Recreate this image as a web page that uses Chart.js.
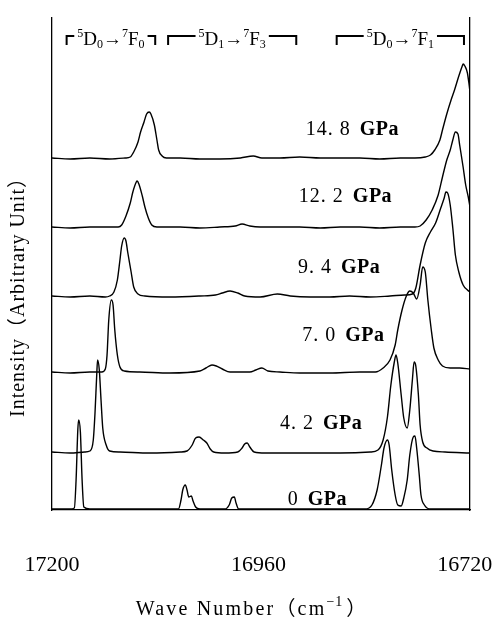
<!DOCTYPE html>
<html><head><meta charset="utf-8">
<script src="https://cdn.jsdelivr.net/npm/chart.js@4.4.1/dist/chart.umd.min.js"></script>
<style>html,body{margin:0;padding:0;background:#fff;}#wrap{width:496px;height:622px;position:relative;}</style>
</head><body><div id="wrap"><canvas id="c"></canvas></div>
<script>
// ---- data (wave number cm^-1, intensity arbitrary units, stacked offsets as read) ----
const pressureLabels = ['14. 8', '12. 2', '9. 4', '7. 0', '4. 2', '0'];
const xTickValues = [17200, 16960, 16720];
const xTitle = 'Wave Number（cm';
const xTitleSup = '−1';
const yTitle = 'Intensity（Arbitrary Unit）';
const bandLabels = ['^5D_0→^7F_0', '^5D_1→^7F_3', '^5D_0→^7F_1'];
const bandRanges = [[17183, 17080], [17065, 16916], [16869, 16721]];

const spec_14_8 = [[17200,352],[17179,351],[17156,352],[17133,351],[17115,352],[17109,353],[17105,358],[17100,368],[17097,378],[17093,388],[17090,396],[17087,398],[17085,396],[17081,385],[17078,370],[17076,360],[17072,354],[17067,352],[17051,352],[17028,351],[17005,351],[16981,352],[16966,354],[16956,352],[16935,352],[16912,353],[16888,352],[16865,352],[16842,352],[16819,351],[16795,352],[16778,352],[16766,353],[16760,355],[16755,360],[16749,370],[16746,380],[16741,396],[16736,410],[16732,420],[16727,434],[16723,444],[16722,446],[16720,444],[16717,437],[16715,425],[16714,418]];
const spec_12_2 = [[17200,283],[17179,282],[17156,283],[17133,283],[17123,283],[17119,285],[17114,294],[17109,307],[17106,318],[17102,328],[17101,329],[17099,326],[17095,314],[17092,303],[17088,292],[17084,285],[17078,283],[17051,283],[17028,282],[17005,283],[16987,284],[16979,286],[16970,284],[16958,283],[16935,283],[16912,283],[16888,282],[16865,283],[16842,283],[16819,282],[16795,283],[16778,283],[16772,284],[16765,290],[16758,300],[16751,315],[16746,333],[16741,350],[16737,360],[16734,370],[16731,378],[16728,376],[16726,365],[16722,343],[16719,325],[16716,313],[16714,303]];
const spec_9_4 = [[17200,214],[17179,213],[17156,214],[17138,213],[17133,214],[17128,218],[17124,230],[17121,250],[17119,264],[17116,272],[17114,269],[17112,258],[17108,238],[17105,223],[17100,216],[17092,214],[17063,213],[17028,214],[17010,215],[17002,217],[16993,219],[16984,217],[16976,214],[16958,213],[16938,216],[16923,214],[16900,213],[16877,213],[16854,214],[16830,213],[16807,214],[16790,215],[16781,216],[16777,222],[16772,245],[16766,267],[16760,278],[16754,287],[16748,302],[16744,312],[16742,318],[16740,317],[16737,305],[16734,282],[16731,255],[16727,238],[16722,225],[16717,220],[16714,218]];
const spec_7_0 = [[17200,138],[17179,137],[17156,138],[17142,138],[17138,141],[17136,155],[17134,190],[17131,210],[17129,205],[17127,180],[17124,155],[17121,143],[17116,139],[17098,138],[17063,137],[17028,139],[17021,142],[17014,145],[17009,144],[17002,141],[16993,138],[16970,138],[16963,140],[16956,142],[16949,139],[16935,138],[16912,137],[16877,137],[16842,138],[16824,138],[16815,142],[16807,150],[16801,165],[16798,180],[16793,200],[16788,214],[16784,219],[16780,217],[16776,211],[16772,225],[16769,243],[16766,238],[16763,210],[16759,180],[16756,162],[16751,150],[16746,144],[16737,142],[16726,142],[16714,141]];
const spec_4_2 = [[17200,58],[17179,57],[17162,58],[17156,59],[17152,70],[17150,97],[17148,135],[17147,150],[17145,140],[17143,110],[17141,82],[17137,65],[17133,59],[17121,58],[17086,57],[17051,58],[17043,59],[17037,65],[17033,72],[17029,73],[17024,70],[17020,67],[17016,61],[17012,58],[16999,57],[16984,58],[16979,62],[16976,66],[16973,67],[16970,63],[16965,58],[16952,57],[16912,57],[16865,57],[16830,58],[16821,60],[16815,70],[16810,93],[16806,125],[16802,148],[16800,155],[16798,147],[16794,115],[16791,92],[16787,82],[16784,100],[16781,130],[16779,148],[16777,144],[16774,115],[16772,85],[16769,68],[16764,62],[16757,59],[16743,58],[16714,57]];
const spec_0 = [[17200,1],[17179,1],[17174,2],[17172,30],[17170,80],[17169,90],[17167,78],[17165,30],[17163,3],[17156,1],[17121,1],[17086,1],[17053,1],[17050,10],[17048,20],[17045,25],[17043,20],[17041,13],[17038,14],[17036,9],[17033,3],[17028,1],[16999,1],[16994,5],[16991,12],[16988,13],[16986,7],[16983,1],[16958,1],[16912,1],[16865,1],[16836,1],[16828,5],[16822,20],[16817,45],[16814,62],[16810,70],[16808,65],[16805,40],[16801,15],[16798,5],[16794,4],[16791,12],[16787,30],[16784,55],[16780,73],[16778,74],[16776,62],[16773,35],[16771,15],[16767,5],[16760,1],[16714,1]];

// ---- layout (positions of annotations, in data coordinates) ----
const labelAnchors = [[16905,380],[16913,313],[16914,242],[16909,174],[16935,86],[16926,10]];

const series = [spec_14_8, spec_12_2, spec_9_4, spec_7_0, spec_4_2, spec_0];
const SERIF = '"Liberation Serif", "Noto Sans CJK JP", serif';

function parsePieces(s){
  const out=[]; let i=0;
  while(i<s.length){
    const ch=s[i];
    if(ch==='^'){out.push({t:s[i+1],k:'sup'});i+=2;}
    else if(ch==='_'){out.push({t:s[i+1],k:'sub'});i+=2;}
    else {out.push({t:ch,k:''});i++;}
  }
  return out;
}

const decor = {
  id:'decor',
  afterDraw(chart){
    const ctx = chart.ctx, xs = chart.scales.x, ys = chart.scales.y, ca = chart.chartArea;
    ctx.save();
    ctx.fillStyle='#000'; ctx.strokeStyle='#000';
    // pressure labels
    pressureLabels.forEach((t,i)=>{
      const px = xs.getPixelForValue(labelAnchors[i][0]);
      const py = ys.getPixelForValue(labelAnchors[i][1]);
      ctx.textBaseline='middle'; ctx.textAlign='left';
      ctx.font = '20px ' + SERIF;
      ctx.letterSpacing='1px';
      ctx.fillText(t, px, py);
      const w = ctx.measureText(t).width;
      ctx.font = 'bold 20px ' + SERIF;
      ctx.letterSpacing='0.5px';
      ctx.fillText('GPa', px + w + 9, py);
    });
    ctx.letterSpacing='0px';
    // band brackets
    const yl = ca.top + 18;
    bandLabels.forEach((s,i)=>{
      const x1 = xs.getPixelForValue(bandRanges[i][0]);
      const x2 = xs.getPixelForValue(bandRanges[i][1]);
      const pcs = parsePieces(s);
      let w=0;
      pcs.forEach(p=>{ctx.font=(p.k?'12px ':'19px ')+SERIF; p.w=ctx.measureText(p.t).width; w+=p.w;});
      const cx=(x1+x2)/2; let tx=cx-w/2;
      ctx.lineWidth=2;
      ctx.beginPath();
      ctx.moveTo(x1, yl+9); ctx.lineTo(x1, yl); ctx.lineTo(tx-3, yl);
      ctx.moveTo(tx+w+3, yl); ctx.lineTo(x2, yl); ctx.lineTo(x2, yl+9);
      ctx.stroke();
      const base = yl+9;
      ctx.textBaseline='alphabetic'; ctx.textAlign='left';
      pcs.forEach(p=>{
        ctx.font=(p.k?'12px ':'19px ')+SERIF;
        const yy = p.k==='sup'? base-8 : p.k==='sub'? base+3 : base;
        ctx.fillText(p.t, tx, yy); tx+=p.w;
      });
    });
    // x title
    ctx.font='20px '+SERIF; ctx.letterSpacing='2.2px';
    const w1 = ctx.measureText(xTitle).width;
    ctx.font='14px '+SERIF; ctx.letterSpacing='1px';
    const w2 = ctx.measureText(xTitleSup).width;
    ctx.font='20px '+SERIF; ctx.letterSpacing='0px';
    const w3 = ctx.measureText('）').width;
    let tx = 251 - (w1+w2+3+w3)/2;
    const tb = 615;
    ctx.textBaseline='alphabetic';
    ctx.font='20px '+SERIF; ctx.letterSpacing='2.2px';
    ctx.fillText(xTitle, tx, tb); tx+=w1;
    ctx.font='14px '+SERIF; ctx.letterSpacing='1px';
    ctx.fillText(xTitleSup, tx, tb-9); tx+=w2+3;
    ctx.font='20px '+SERIF; ctx.letterSpacing='0px';
    ctx.fillText('）', tx, tb);
    // y title
    ctx.save();
    ctx.translate(19, 292); ctx.rotate(-Math.PI/2);
    ctx.font='20px '+SERIF; ctx.letterSpacing='1px';
    ctx.textAlign='center'; ctx.textBaseline='middle';
    ctx.fillText(yTitle, 0, 0);
    ctx.restore();
    ctx.restore();
  }
};

function noPad(s){ s.paddingLeft=0; s.paddingRight=0; s.paddingTop=0; s.paddingBottom=0; }

new Chart(document.getElementById('c'), {
  type:'line',
  data:{ datasets: series.map((s,i)=>({
    label: pressureLabels[i] + ' GPa',
    data: s.map(p=>({x:p[0], y:p[1]})),
    borderColor:'#000', borderWidth:1.4, pointRadius:0, fill:false,
    cubicInterpolationMode:'monotone'
  }))},
  options:{
    responsive:true, maintainAspectRatio:false, animation:false, devicePixelRatio:1,
    layout:{padding:{top:18,left:0,right:0,bottom:0}},
    plugins:{legend:{display:false}, tooltip:{enabled:false}},
    scales:{
      x:{type:'linear', reverse:true, min:16714, max:17200, position:'bottom',
         grid:{display:false, drawTicks:false},
         border:{display:true, color:'#000', width:1.3},
         ticks:{color:'#000', font:{family:SERIF, size:22}, padding:42, maxRotation:0, autoSkip:false,
                callback:(v)=>String(v)},
         afterBuildTicks:(s)=>{ s.ticks = xTickValues.map(v=>({value:v})); },
         afterFit:(s)=>{ s.height = 112; noPad(s); }
      },
      y:{type:'linear', min:0, max:492, position:'left',
         grid:{display:false, drawTicks:false}, ticks:{display:false},
         border:{display:true, color:'#000', width:1.3},
         afterFit:(s)=>{ s.width = 52; noPad(s); }
      },
      y2:{type:'linear', min:0, max:492, position:'right',
         grid:{display:false, drawTicks:false}, ticks:{display:false},
         border:{display:true, color:'#000', width:1.3},
         afterFit:(s)=>{ s.width = 26; noPad(s); }
      }
    }
  },
  plugins:[decor]
});
</script></body></html>
